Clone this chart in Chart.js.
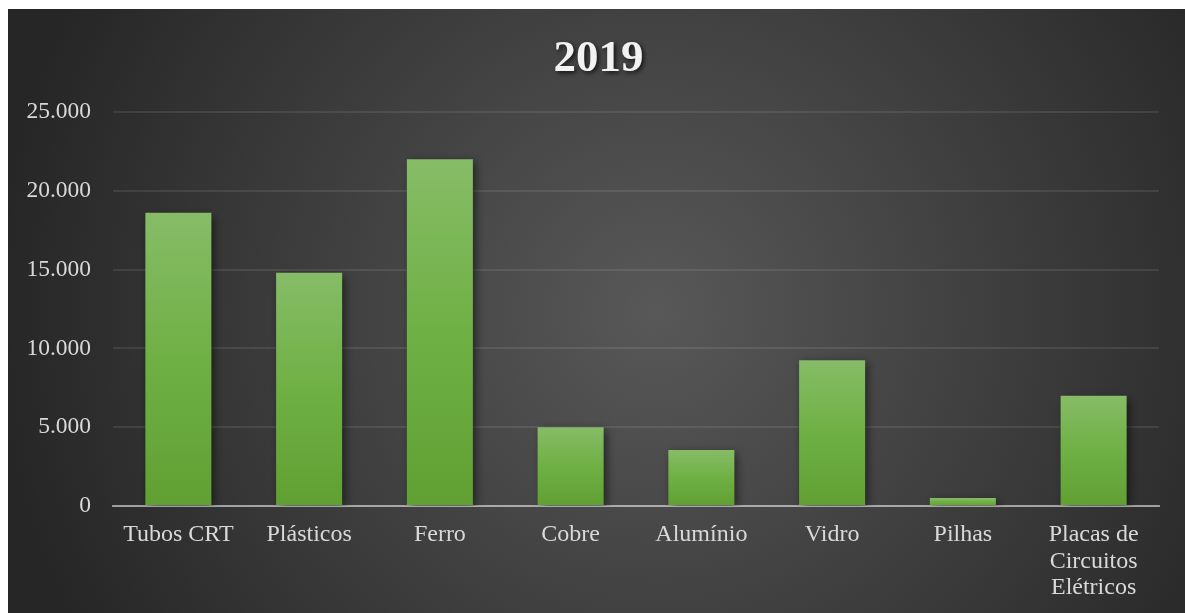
<!DOCTYPE html>
<html>
<head>
    <meta charset="utf-8">
    <script src="https://cdn.jsdelivr.net/npm/chart.js"></script>
    <style>
        html, body {
            margin: 0;
            padding: 0;
            background-color: white;
        }

        .frame {
            position: absolute;
            left: 8px;
            top: 9px;
            width: 1177px;
            height: 604px;
        }
    </style>
</head>
<body>

    <div class="frame">
        <canvas id="materialChart"></canvas>
    </div>

    <script>
        // Data
        const chartTitle = "2019";
        const categories = ["Tubos CRT", "Plásticos", "Ferro", "Cobre", "Alumínio", "Vidro", "Pilhas", ["Placas de", "Circuitos", "Elétricos"]];
        const values = [18600, 14800, 22000, 5000, 3550, 9250, 500, 7000];
        const yTicks = [0, 5000, 10000, 15000, 20000, 25000];

        const serif = "'Liberation Serif', 'Times New Roman', serif";

        // Format numbers the Brazilian way: 25.000
        function formatNumber(n) {
            return String(n).replace(/\B(?=(\d{3})+(?!\d))/g, ".");
        }

        // Dark radial background behind everything
        const backgroundPlugin = {
            id: "background",
            beforeDraw(chart) {
                let ctx = chart.ctx;
                let w = chart.width, h = chart.height;
                ctx.save();
                let g = ctx.createRadialGradient(w * 0.55, h * 0.5, 0, w * 0.55, h * 0.5, Math.sqrt(w * w + h * h) / 2);
                g.addColorStop(0, "#585858");
                g.addColorStop(1, "#262626");
                ctx.fillStyle = g;
                ctx.fillRect(0, 0, w, h);
                ctx.restore();
            }
        };

        // Soft shadow under the bars
        const shadowPlugin = {
            id: "barShadow",
            beforeDatasetsDraw(chart) {
                let ctx = chart.ctx;
                ctx.save();
                ctx.shadowColor = "rgba(0, 0, 0, 0.55)";
                ctx.shadowBlur = 9;
                ctx.shadowOffsetX = 3;
                ctx.shadowOffsetY = 3;
            },
            afterDatasetsDraw(chart) {
                chart.ctx.restore();
            }
        };

        // Title with a drop shadow
        const titlePlugin = {
            id: "shadowTitle",
            afterDraw(chart) {
                let ctx = chart.ctx;
                ctx.save();
                ctx.font = "bold 45px " + serif;
                ctx.textAlign = "center";
                ctx.textBaseline = "alphabetic";
                ctx.shadowColor = "rgba(0, 0, 0, 0.7)";
                ctx.shadowBlur = 4;
                ctx.shadowOffsetX = 2;
                ctx.shadowOffsetY = 2;
                ctx.fillStyle = "#f2f2f2";
                ctx.fillText(chartTitle, chart.width / 2 + 2, 62);
                ctx.restore();
            }
        };

        function barGradient(context) {
            let chart = context.chart;
            if (!chart.chartArea) return "#6fae45";
            let y = chart.scales.y;
            let top = y.getPixelForValue(context.raw);
            let bottom = y.getPixelForValue(0);
            if (!isFinite(top) || top >= bottom) top = bottom - 1;
            let g = chart.ctx.createLinearGradient(0, top, 0, bottom);
            g.addColorStop(0, "#86bc67");
            g.addColorStop(0.5, "#6fb044");
            g.addColorStop(1, "#60a033");
            return g;
        }

        let ctx = document.getElementById("materialChart").getContext("2d");
        let chart = new Chart(ctx, {
            type: "bar",
            data: {
                labels: categories,
                datasets: [{
                    label: chartTitle,
                    data: values,
                    backgroundColor: barGradient,
                    borderWidth: 0,
                    barPercentage: 1,
                    categoryPercentage: 0.505
                }]
            },
            options: {
                responsive: true,
                maintainAspectRatio: false,
                animation: false,
                layout: {
                    padding: { top: 103, right: 26, bottom: 0, left: 0 }
                },
                plugins: {
                    legend: { display: false },
                    title: { display: false },
                    tooltip: { enabled: false }
                },
                scales: {
                    x: {
                        z: 1,
                        grid: { display: false, drawTicks: false },
                        border: { display: true, color: "rgba(255, 255, 255, 0.5)", width: 2 },
                        ticks: {
                            color: "#d9d9d9",
                            font: { family: serif, size: 24, lineHeight: 1.12 },
                            padding: 15,
                            maxRotation: 0,
                            autoSkip: false
                        },
                        afterFit(scale) {
                            scale.height = 107;
                        }
                    },
                    y: {
                        min: 0,
                        max: 25000,
                        afterBuildTicks(scale) {
                            scale.ticks = yTicks.map(v => ({ value: v }));
                        },
                        grid: {
                            color: "rgba(255, 255, 255, 0.09)",
                            lineWidth: 2,
                            drawTicks: false
                        },
                        border: { display: false },
                        ticks: {
                            color: "#d9d9d9",
                            font: { family: serif, size: 23.5 },
                            padding: 22,
                            callback: value => formatNumber(value)
                        },
                        afterFit(scale) {
                            scale.width = 105;
                        }
                    }
                }
            },
            plugins: [backgroundPlugin, shadowPlugin, titlePlugin]
        });
    </script>

</body>
</html>
